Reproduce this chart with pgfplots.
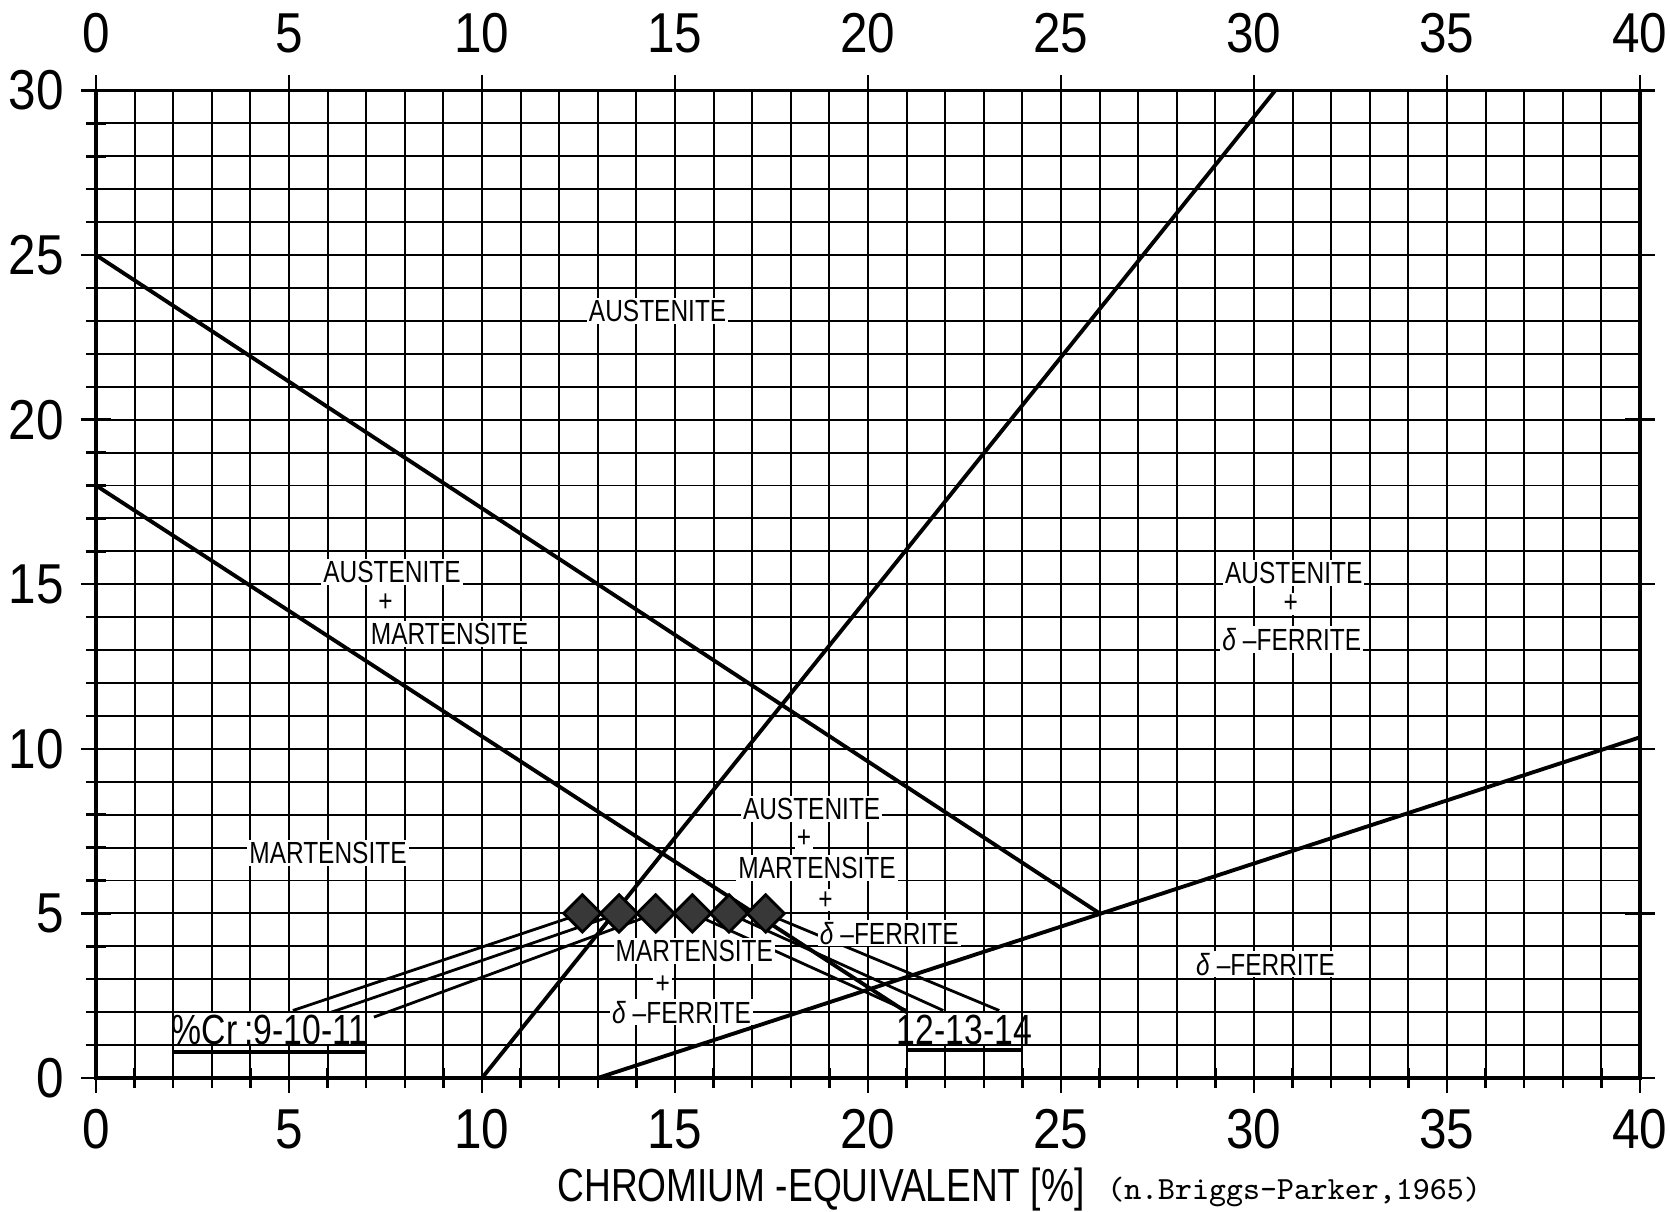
\documentclass[border=0pt]{standalone}
\usepackage{pgfplots}
\pgfplotsset{compat=1.18}
\usepackage{fontspec}
\setmainfont{Liberation Sans}[FakeStretch=0.8]
\newfontfamily\tickfont{Liberation Sans}[FakeStretch=0.88]
\begin{document}
\begin{tikzpicture}
\tikzset{lab/.style={fill=white, inner sep=0.6pt, font=\fontsize{8.7}{9}\selectfont}}
\pgfplotsset{
  base/.style={
    scale only axis, width=15.44cm, height=9.875cm,
    at={(0.96cm,1.34cm)}, anchor=south west,
    xmin=0,xmax=40,ymin=0,ymax=30,
    xtick={0,5,...,40}, ytick={0,5,...,30},
    tick align=center, major tick length=0.3cm, minor tick length=0.2cm,
    every tick/.style={black, line width=0.7pt},
    axis line style={line width=1.1pt},
    /pgf/number format/assume math mode=true,
    tick label style={font=\tickfont\fontsize{16}{16}\selectfont},
  },
}
\begin{axis}[base,
  minor x tick num=4, minor y tick num=4,
  xtick pos=left, ytick pos=left,
  grid=both, major grid style={black, line width=0.55pt}, minor grid style={black, line width=0.55pt},
  xticklabel shift=0.4mm, yticklabel shift=0.5mm,
]
% phase boundaries
\addplot[black, line width=1.1pt] coordinates {(0,25) (26,5)};
\addplot[black, line width=1.1pt] coordinates {(0,18) (21,2)};
\addplot[black, line width=1.1pt] coordinates {(10,0) (30.55,30)};
\addplot[black, line width=1.1pt] coordinates {(13,0) (40,10.35)};
% leader lines
\addplot[black, line width=0.8pt] coordinates {(5.1,2.05) (12.6,5)};
\addplot[black, line width=0.8pt] coordinates {(6.1,2.0) (13.55,5)};
\addplot[black, line width=0.8pt] coordinates {(7.2,1.85) (14.5,5)};
\addplot[black, line width=0.8pt] coordinates {(15.45,5) (21,2.05)};
\addplot[black, line width=0.8pt] coordinates {(16.4,5) (21.95,2.05)};
\addplot[black, line width=0.8pt] coordinates {(17.35,5) (23.4,2.05)};
% alloys
\addplot[only marks, mark=square*, mark size=1.32mm, mark options={rotate=45, fill=black!78, draw=black, line width=0.8pt}]
  coordinates {(12.6,5) (13.55,5) (14.5,5) (15.45,5) (16.4,5) (17.35,5)};
% labels
\node[lab] at (axis cs:14.55,23.3) {AUSTENITE};
\node[lab] at (axis cs:7.67,15.37) {AUSTENITE};
\node[lab] at (axis cs:7.5,14.45) {+};
\node[lab] at (axis cs:9.16,13.5) {MARTENSITE};
\node[lab] at (axis cs:31.03,15.34) {AUSTENITE};
\node[lab] at (axis cs:30.95,14.4) {+};
\node[lab] at (axis cs:30.98,13.33) {\textit{δ} –FERRITE};
\node[lab] at (axis cs:6.01,6.83) {MARTENSITE};
\node[lab] at (axis cs:18.54,8.16) {AUSTENITE};
\node[lab] at (axis cs:18.34,7.28) {+};
\node[lab] at (axis cs:18.68,6.38) {MARTENSITE};
\node[lab] at (axis cs:18.9,5.4) {+};
\node[lab] at (axis cs:20.55,4.4) {\textit{δ} –FERRITE};
\node[lab] at (axis cs:15.5,3.85) {MARTENSITE};
\node[lab] at (axis cs:14.68,2.82) {+};
\node[lab] at (axis cs:15.17,2.0) {\textit{δ} –FERRITE};
\node[lab] at (axis cs:30.3,3.46) {\textit{δ} –FERRITE};
% legend-like boxes
\fill[white] (axis cs:2.03,1.03) rectangle (axis cs:6.97,1.97);
\node[font=\fontsize{12}{12}\selectfont, inner sep=0pt] at (axis cs:4.5,1.45) {\%Cr\,:9-10-11};
\draw[line width=1.2pt] (axis cs:2,0.8) -- (axis cs:7,0.8);
\fill[white] (axis cs:21.03,1.03) rectangle (axis cs:23.97,1.97);
\node[font=\fontsize{12}{12}\selectfont, inner sep=0pt] at (axis cs:22.5,1.45) {12-13-14};
\draw[line width=1.2pt] (axis cs:21,0.85) -- (axis cs:24,0.85);
\end{axis}
\begin{axis}[base,
  axis x line*=top, axis y line*=right,
  yticklabels={}, xticklabel shift=1.0mm,
]
\end{axis}
\node[font=\fontsize{13.2}{14}\selectfont] at (8.21,0.22) {CHROMIUM -EQUIVALENT [\%]};
\node[font=\ttfamily\fontsize{9.2}{10}\selectfont] at (12.94,0.2) {(n.Briggs-Parker,1965)};
\pgfresetboundingbox
\path[use as bounding box] (0,0) rectangle (16.7,12.12);
\end{tikzpicture}
\end{document}
